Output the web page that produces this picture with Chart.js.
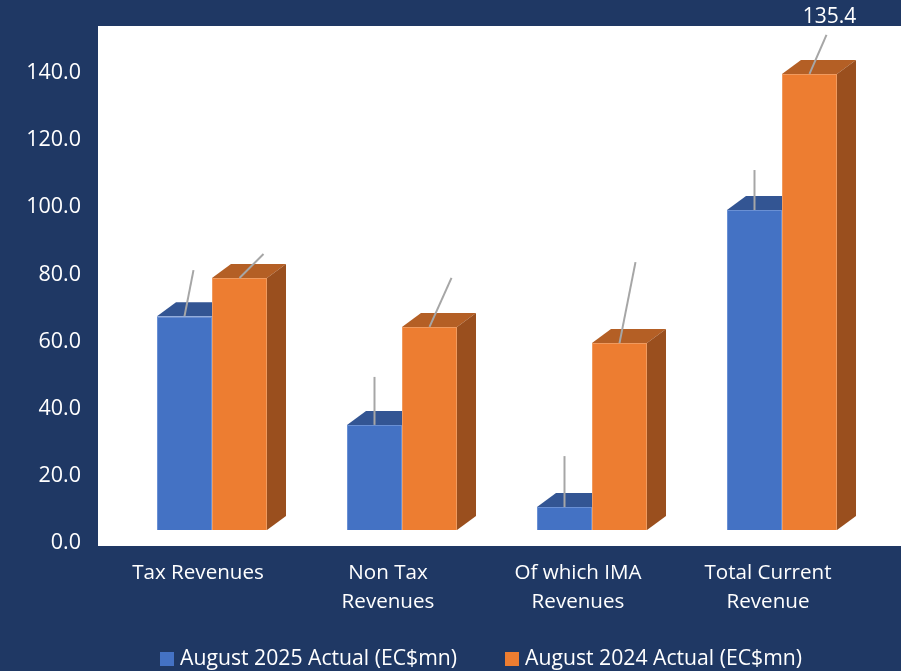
<!DOCTYPE html>
<html>
<head>
<meta charset="utf-8">
<script src="https://cdn.jsdelivr.net/npm/chart.js@4"></script>
<style>
  html, body { margin: 0; padding: 0; background: #1f3864; }
  canvas { display: block; }
</style>
</head>
<body>
<canvas id="revenueChart" width="901" height="671"></canvas>
<script>
const categories = [['Tax Revenues'], ['Non Tax', 'Revenues'], ['Of which IMA', 'Revenues'], ['Total Current', 'Revenue']];
const actual2025 = [63.5, 31.2, 6.8, 95.0];
const actual2024 = [74.8, 60.3, 55.5, 135.4];
const yTicks = [0, 20, 40, 60, 80, 100, 120, 140];
const seriesNames = ['August 2025 Actual (EC$mn)', 'August 2024 Actual (EC$mn)'];

// leader lines, px offset from the top of each bar
const leaders2025 = [[9, -46], [0, -48], [0, -51], [0, -40]];
const leaders2024 = [[24, -24], [22, -49], [16, -81], [17, -39]];

const FONT = "'Open Sans', sans-serif";
const DEPTH_X = 19, DEPTH_Y = 14;

function poly(ctx, color, pts) {
    ctx.fillStyle = color;
    ctx.beginPath();
    pts.forEach((p, i) => i ? ctx.lineTo(p[0], p[1]) : ctx.moveTo(p[0], p[1]));
    ctx.closePath();
    ctx.fill();
}

const plotBackground = {
    id: 'plotBackground',
    beforeDraw(chart) {
        const a = chart.chartArea;
        chart.ctx.fillStyle = '#ffffff';
        chart.ctx.fillRect(98, a.top, 901 - 98, a.bottom - a.top);
    }
};

// fake 3D: top and side faces behind each bar
const barDepth = {
    id: 'barDepth',
    beforeDatasetsDraw(chart) {
        const ctx = chart.ctx;
        const shades = [['#335593', '#2f4f88'], ['#b45f25', '#9a4f1e']];
        chart.data.datasets.forEach((ds, d) => {
            chart.getDatasetMeta(d).data.forEach(bar => {
                const l = bar.x - bar.width / 2, r = bar.x + bar.width / 2;
                poly(ctx, shades[d][0], [[l, bar.y], [l + DEPTH_X, bar.y - DEPTH_Y], [r + DEPTH_X, bar.y - DEPTH_Y], [r, bar.y]]);
                poly(ctx, shades[d][1], [[r, bar.y], [r + DEPTH_X, bar.y - DEPTH_Y], [r + DEPTH_X, bar.base - DEPTH_Y], [r, bar.base]]);
            });
        });
    }
};

const leaderLines = {
    id: 'leaderLines',
    afterDatasetsDraw(chart) {
        const ctx = chart.ctx;
        ctx.save();
        ctx.strokeStyle = '#a6a6a6';
        ctx.lineWidth = 2;
        [leaders2025, leaders2024].forEach((offsets, d) => {
            chart.getDatasetMeta(d).data.forEach((bar, i) => {
                ctx.beginPath();
                ctx.moveTo(bar.x, bar.y);
                ctx.lineTo(bar.x + offsets[i][0], bar.y + offsets[i][1]);
                ctx.stroke();
            });
        });
        // only the last label sits on the dark background, the rest are white on white
        const last = chart.getDatasetMeta(1).data[3];
        ctx.fillStyle = '#ffffff';
        ctx.font = '21px ' + FONT;
        ctx.textAlign = 'center';
        ctx.textBaseline = 'middle';
        ctx.fillText(actual2024[3].toFixed(1), last.x + 20, 17);
        ctx.restore();
    }
};

const bottomLegend = {
    id: 'bottomLegend',
    afterDraw(chart) {
        const ctx = chart.ctx;
        const startX = [160, 505];
        ctx.save();
        ctx.font = '21.2px ' + FONT;
        ctx.textAlign = 'left';
        ctx.textBaseline = 'middle';
        chart.data.datasets.forEach((ds, d) => {
            ctx.fillStyle = ds.backgroundColor;
            ctx.fillRect(startX[d], 652, 14, 14);
            ctx.fillStyle = '#ffffff';
            ctx.fillText(ds.label, startX[d] + 20, 659);
        });
        ctx.restore();
    }
};

new Chart(document.getElementById('revenueChart'), {
    type: 'bar',
    data: {
        labels: categories,
        datasets: [{
            label: seriesNames[0],
            data: actual2025,
            yAxisID: 'yBars',
            backgroundColor: '#4472c4',
            borderColor: '#6a90d4',
            borderWidth: 1
        }, {
            label: seriesNames[1],
            data: actual2024,
            yAxisID: 'yBars',
            backgroundColor: '#ed7d31',
            borderColor: '#f09a5e',
            borderWidth: 1
        }]
    },
    options: {
        responsive: false,
        animation: false,
        categoryPercentage: 110 / 190,
        barPercentage: 1,
        layout: { padding: { top: 26, right: 24 } },
        plugins: { legend: { display: false }, tooltip: { enabled: false } },
        scales: {
            x: {
                grid: { display: false, drawTicks: false },
                border: { display: false },
                afterFit: s => { s.height = 125; },
                ticks: {
                    color: '#ffffff',
                    font: { family: FONT, size: 20.6, lineHeight: 29 / 20.6 },
                    padding: 13,
                    labelOffset: -14,
                    maxRotation: 0
                }
            },
            y: {
                position: 'left',
                min: -0.89,
                max: 154,
                grid: { display: false, drawTicks: false },
                border: { display: false },
                // tick padding would otherwise push the plot top down
                afterFit: s => { s.width = 117; s.paddingTop = 0; s.paddingBottom = 0; },
                afterBuildTicks: s => { s.ticks = yTicks.map(v => ({ value: v })); },
                ticks: {
                    color: '#ffffff',
                    font: { family: FONT, size: 21.5 },
                    padding: 36,
                    callback: v => v.toFixed(1)
                }
            },
            // the bars' zero sits above the axis' zero in the 3D view
            yBars: { display: false, min: -4.75, max: 149.64 }
        }
    },
    plugins: [plotBackground, barDepth, leaderLines, bottomLegend]
});
</script>
</body>
</html>
